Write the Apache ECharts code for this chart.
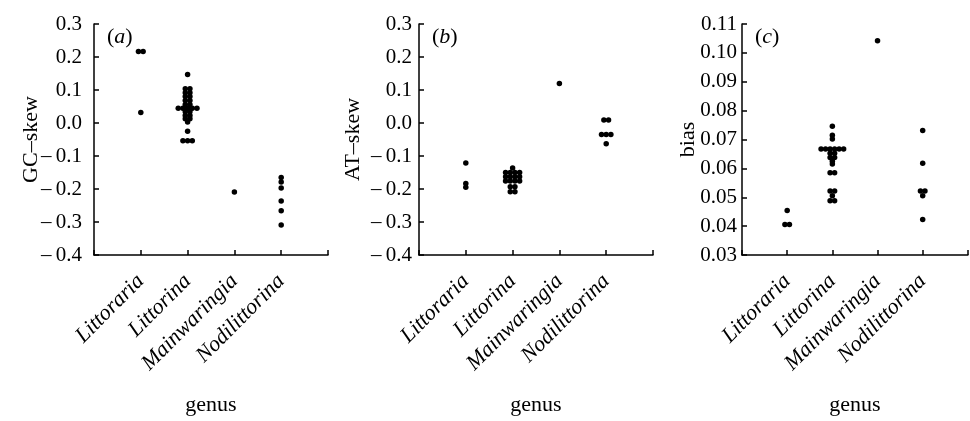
<!DOCTYPE html>
<html>
<head>
<meta charset="utf-8">
<script src="https://cdn.jsdelivr.net/npm/echarts@6/dist/echarts.min.js"></script>
<style>
  html, body { margin: 0; padding: 0; background: #fff; }
  #chart { width: 970px; height: 421px; }
</style>
</head>
<body>
<div id="chart"></div>
<script>
// genera on the x axis
const genera = ['Littoraria', 'Littorina', 'Mainwaringia', 'Nodilittorina'];

// (a) GC-skew, one list per genus
const gcLittoraria = [0.217, 0.217, 0.032];
const gcLittorina = [0.147, 0.104, 0.104, 0.092, 0.092, 0.080, 0.080, 0.068, 0.068, 0.056, 0.056,
    0.045, 0.045, 0.045, 0.045, 0.045, 0.034, 0.034, 0.023, 0.023, 0.013, 0.013, 0.003, -0.025,
    -0.054, -0.054, -0.054];
const gcMainwaringia = [-0.209];
const gcNodilittorina = [-0.165, -0.179, -0.197, -0.236, -0.266, -0.309];

// (b) AT-skew
const atLittoraria = [-0.121, -0.183, -0.195];
const atLittorina = [-0.136, -0.150, -0.150, -0.150, -0.150, -0.163, -0.163, -0.163, -0.163,
    -0.176, -0.176, -0.176, -0.176, -0.193, -0.193, -0.208, -0.208];
const atMainwaringia = [0.12];
const atNodilittorina = [0.009, 0.009, -0.035, -0.035, -0.035, -0.063];

// (c) bias
const biasLittoraria = [0.0454, 0.0406, 0.0406];
const biasLittorina = [0.0746, 0.0715, 0.0702, 0.0667, 0.0667, 0.0667, 0.0667, 0.0667, 0.0667,
    0.0652, 0.0652, 0.0638, 0.0638, 0.0625, 0.0615, 0.0585, 0.0585, 0.0522, 0.0522, 0.0505,
    0.0488, 0.0488];
const biasMainwaringia = [0.1042];
const biasNodilittorina = [0.0731, 0.0618, 0.0522, 0.0522, 0.0505, 0.0423];

// tick labels
const skewTicks = [-0.4, -0.3, -0.2, -0.1, 0.0, 0.1, 0.2, 0.3];
const biasTicks = [0.03, 0.04, 0.05, 0.06, 0.07, 0.08, 0.09, 0.10, 0.11];

const FONT = "'Liberation Serif', 'Times New Roman', serif";

// equal values in a genus are spread side by side (beeswarm)
const swarm = function (groups, step) {
    let pts = [];
    groups.forEach(function (vals, gi) {
        let counts = {}, seen = {};
        vals.forEach(function (v) { counts[v] = (counts[v] || 0) + 1; });
        vals.forEach(function (v) {
            let n = counts[v], k = seen[v] || 0;
            seen[v] = k + 1;
            pts.push([gi + 1 + (k - (n - 1) / 2) * step, v]);
        });
    });
    return pts;
};

const signed = function (v, d) {
    return v < -1e-9 ? '\u2013\u2009' + Math.abs(v).toFixed(d) : Math.abs(v).toFixed(d);
};

const panels = [
    { left: 94, name: 'GC\u2013skew', tag: 'a', ticks: skewTicks, d: 1, margin: 12, nameGap: 52,
      groups: [gcLittoraria, gcLittorina, gcMainwaringia, gcNodilittorina] },
    { left: 419, name: 'AT\u2013skew', tag: 'b', ticks: skewTicks, d: 1, margin: 7, nameGap: 55,
      groups: [atLittoraria, atLittorina, atMainwaringia, atNodilittorina] },
    { left: 742, name: 'bias', tag: 'c', ticks: biasTicks, d: 2, margin: 5, nameGap: 43,
      groups: [biasLittoraria, biasLittorina, biasMainwaringia, biasNodilittorina] }
];

let myChart = echarts.init(document.getElementById('chart'));

let grid = [], xAxis = [], yAxis = [], series = [], title = [];
const line = { color: '#000', width: 1.5 };

panels.forEach(function (p, i) {
    grid.push({ left: p.left, top: 24, width: 234, height: 234 });
    xAxis.push({
        type: 'value', gridIndex: i, min: 0, max: 5, interval: 1,
        name: 'genus', nameLocation: 'middle', nameGap: 139, nameMoveOverlap: false,
        nameTextStyle: { fontFamily: FONT, fontSize: 22, color: '#000' },
        axisLine: { onZero: false, lineStyle: line },
        axisTick: { inside: true, length: 5, lineStyle: line },
        splitLine: { show: false },
        axisLabel: {
            rotate: 45, margin: 23, fontFamily: FONT, fontStyle: 'italic', fontSize: 22, color: '#000',
            formatter: function (v) { return genera[v - 1] || ''; }
        }
    });
    let t = p.ticks;
    let step = +(t[1] - t[0]).toFixed(4);
    yAxis.push({
        type: 'value', gridIndex: i, min: t[0], max: t[t.length - 1], interval: step,
        name: p.name, nameLocation: 'middle', nameGap: p.nameGap, nameMoveOverlap: false,
        nameTextStyle: { fontFamily: FONT, fontSize: 22, color: '#000' },
        axisLine: { onZero: false, lineStyle: line },
        axisTick: { inside: true, length: 5, lineStyle: line },
        splitLine: { show: false },
        axisLabel: {
            margin: p.margin, fontFamily: FONT, fontSize: 21, color: '#000',
            showMinLabel: true, showMaxLabel: true,
            formatter: function (v) { return signed(v, p.d); }
        }
    });
    series.push({
        type: 'scatter', xAxisIndex: i, yAxisIndex: i,
        symbolSize: 5.5, itemStyle: { color: '#000', opacity: 1 },
        data: swarm(p.groups, 0.1)
    });
    title.push({
        text: '{p|(}{i|' + p.tag + '}{p|)}', left: p.left + 8, top: 21,
        textStyle: { fontWeight: 'normal', rich: {
            p: { fontFamily: FONT, fontSize: 22, fontWeight: 'normal', color: '#000' },
            i: { fontFamily: FONT, fontSize: 22, fontStyle: 'italic', fontWeight: 'normal', color: '#000' }
        } }
    });
});

let option = {
    backgroundColor: '#fff',
    animation: false,
    title: title,
    grid: grid,
    xAxis: xAxis,
    yAxis: yAxis,
    series: series
};

myChart.setOption(option);
</script>
</body>
</html>
